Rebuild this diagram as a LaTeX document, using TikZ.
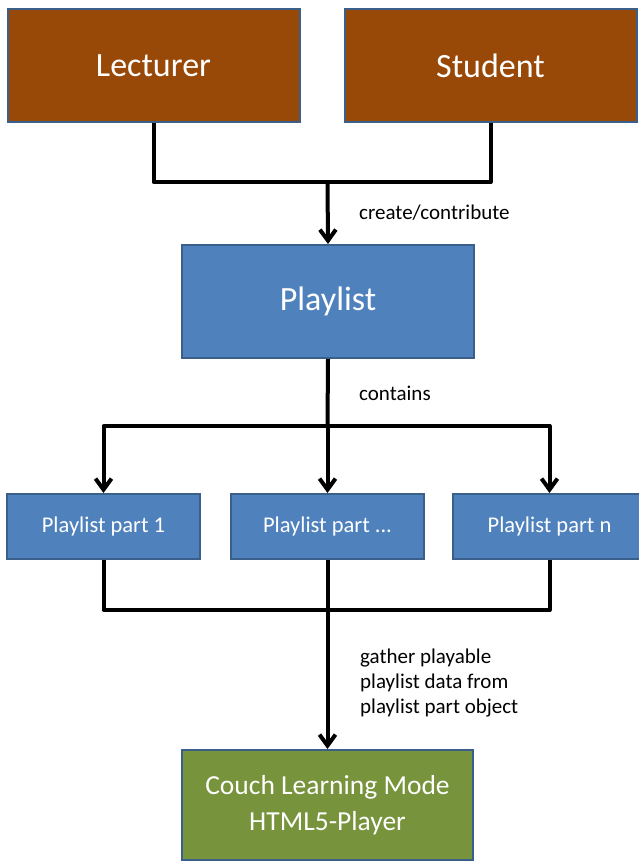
\documentclass[tikz,border=0pt]{standalone}
\usepackage{fontspec}
\setmainfont{Carlito}
\usepackage{xcolor}
\usetikzlibrary{arrows.meta,positioning}
\definecolor{brownfill}{HTML}{984807}
\definecolor{bluefill}{HTML}{4F81BD}
\definecolor{greenfill}{HTML}{77933C}
\definecolor{boxline}{HTML}{3A5F8B}
\newcommand{\partdots}{...}
\tikzset{
  box/.style={draw=boxline,line width=2pt,align=center,text=white,inner sep=2pt},
  role/.style={box,fill=brownfill,minimum width=292pt,minimum height=113pt,font=\fontsize{34}{40}\selectfont},
  plbox/.style={box,fill=bluefill,minimum width=292pt,minimum height=113pt,font=\fontsize{34}{40}\selectfont},
  part/.style={box,fill=bluefill,minimum width=193pt,minimum height=65pt,font=\fontsize{22.5}{27}\selectfont},
  player/.style={box,fill=greenfill,minimum width=291pt,minimum height=110pt,font=\fontsize{27.5}{36}\selectfont},
  lbl/.style={anchor=west,align=left,font=\fontsize{21}{25}\selectfont,inner sep=0pt},
  wire/.style={line width=4pt,line join=round},
  arr/.style={wire,-{Straight Barb[length=11pt,width=16pt]}},
}
\begin{document}
\begin{tikzpicture}[x=1pt,y=-1pt]
\useasboundingbox[fill=white] (0,0) rectangle (639,861);
\node[role] (lect) at (153.5,65.5) {Lecturer};
\node[role] (stud) at (490.5,65.5) {Student};
\node[plbox] (play) at (328,301.5) {Playlist};
\foreach \n/\x/\t in {p1/103.5/1,pm/327.5/\partdots,pn/549.5/n}
  \node[part] (\n) at (\x,526.5) {Playlist part \t};
\node[player] (couch) at (327.5,805) {Couch Learning Mode\\HTML5-Player};
% junctions
\coordinate (j1) at (327.5,182);
\coordinate (j2) at (327.5,426);
\coordinate (j3) at (327.5,610);
\draw[wire] (lect.south) |- (j1);
\draw[wire] (stud.south) |- (j1);
\draw[arr] (j1) -- (play.north);
\draw[wire] (play.south) -- (j2);
\draw[arr] (j2) -| (p1.north);
\draw[arr] (j2) -| (pn.north);
\draw[arr] (j2) -- (pm.north);
\draw[wire] (p1.south) |- (j3);
\draw[wire] (pn.south) |- (j3);
\draw[arr] (pm.south) -- (couch.north);
% labels
\node[lbl] (l1) at (359,213) {create/contribute};
\node[lbl] (l2) at (359,393) {contains};
\node[lbl] (l3) at (360,683) {gather playable\\playlist data from\\playlist part object};
\end{tikzpicture}
\end{document}
